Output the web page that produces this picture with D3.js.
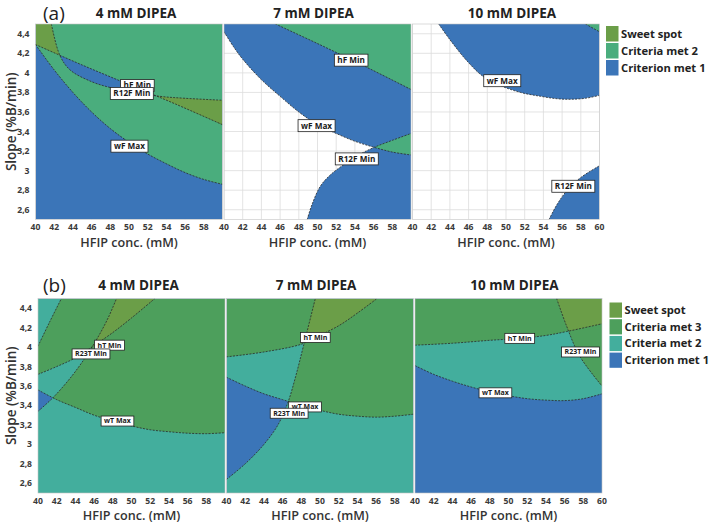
<!DOCTYPE html>
<html>
<head>
<meta charset="utf-8">
<script src="https://cdn.jsdelivr.net/npm/d3@7"></script>
<style>
  body { margin: 0; background: #fff; }
  text { font-family: "Open Sans", sans-serif; }
</style>
</head>
<body>
<script>
// ---- data (HFIP conc. in mM, slope in %B/min) ----
var xTicks = [40, 42, 44, 46, 48, 50, 52, 54, 56, 58, 60];
var yTicks = [2.6, 2.8, 3, 3.2, 3.4, 3.6, 3.8, 4, 4.2, 4.4];
var dipea = ["4 mM DIPEA", "7 mM DIPEA", "10 mM DIPEA"];
var legendA = ["Sweet spot", "Criteria met 2", "Criterion met 1"];
var legendB = ["Sweet spot", "Criteria met 3", "Criteria met 2", "Criterion met 1"];

// (a) contour boundaries
var a4_wF = [[40,4.29],[42,4.03],[44,3.8],[46,3.6],[48,3.43],[50,3.29],[52,3.17],[54,3.07],[56,2.98],[58,2.91],[60,2.86]];
var a4_hF = [[40,4.29],[45,4.08],[50,3.88],[55,3.68],[60,3.47]];
var a4_R12F = [[41.7,4.5],[42.6,4.18],[43.7,4.03],[46,3.91],[48,3.85],[50,3.81],[53.3,3.76],[56,3.74],[60,3.72]];

var a7_wF = [[40,4.42],[41,4.27],[42,4.14],[44,3.93],[46,3.76],[48,3.6],[50,3.47],[52,3.38],[54,3.3],[56,3.24],[58,3.19],[60,3.16]];
var a7_hF = [[45.5,4.5],[50,4.3],[55,4.07],[60,3.83]];
var a7_R12F = [[48.9,2.5],[49.4,2.65],[50.3,2.84],[51.3,2.95],[52.5,3.04],[54.6,3.17],[56.1,3.24],[58,3.31],[60,3.38]];

var a10_wF = [[42.8,4.5],[44,4.34],[45.85,4.12],[47.6,3.96],[49.4,3.87],[51.55,3.8],[53.7,3.76],[55.5,3.735],[56.9,3.73],[58.5,3.74],[60,3.77]];
var a10_hF = [[58.5,4.5],[60,4.42]];
var a10_R12F = [[54.6,2.5],[55.5,2.66],[56.55,2.8],[58,2.93],[60,3.05]];

// (b) contour boundaries
var b4_wT = [[40,3.56],[42,3.46],[44,3.38],[46,3.3],[48,3.24],[50,3.19],[52,3.15],[54,3.13],[56,3.115],[58,3.11],[60,3.12]];
var b4_hT = [[40,3.72],[42,3.8],[44,3.89],[45.9,4.01],[48,4.15],[50,4.3],[52.5,4.5]];
var b4_hTtop = [[40,4.01],[41.2,4.25],[42.5,4.5]];
var b4_R23T = [[40,3.34],[41.6,3.48],[43.6,3.7],[45.1,3.9],[46.4,4.1],[47.5,4.3],[48.4,4.5]];

var b7_wT = [[40,3.69],[42,3.6],[44,3.52],[46,3.46],[48,3.4],[50,3.35],[52,3.31],[54,3.29],[56,3.28],[58,3.29],[60,3.31]];
var b7_hT = [[40,3.9],[44,3.95],[48,4.03],[49.5,4.1],[52,4.22],[54,4.35],[56.1,4.5]];
var b7_R23T = [[40,2.64],[42,2.8],[44,3.0],[45.5,3.2],[46.6,3.44],[47.4,3.7],[48.2,4.0],[49.5,4.5]];

var b10_wT = [[40,3.81],[42,3.72],[44,3.65],[46,3.59],[48,3.54],[50,3.5],[52,3.47],[54,3.455],[56,3.45],[58,3.47],[60,3.52]];
var b10_hT = [[40,4.02],[44,4.04],[48,4.07],[51.2,4.09],[54,4.12],[56.2,4.16],[60,4.24]];
var b10_R23T = [[55.15,4.5],[56.2,4.22],[57.6,3.91],[60,3.6]];

// label anchors (data units)
var a4_labels = [["hF Min",50.9,3.87],["R12F Min",50.3,3.79],["wF Max",50.05,3.25]];
var a7_labels = [["hF Min",53.6,4.13],["wF Max",49.9,3.46],["R12F Min",54.2,3.12]];
var a10_labels = [["wF Max",49.6,3.92],["R12F Min",57.2,2.84]];
var b4_labels = [["hT Min",47.65,4.02],["R23T Min",45.67,3.93],["wT Max",48.5,3.24]];
var b7_labels = [["hT Min",49.5,4.1],["wT Max",48.4,3.385],["R23T Min",46.7,3.32]];
var b10_labels = [["hT Min",51.2,4.09],["R23T Min",57.7,3.95],["wT Max",48.6,3.53]];

// criterion regions: boundary curve + the frame corners that close the "met" side
var panelsA = [
  { crit: [
      [{c: a4_wF}, {f: [[60,4.5],[40,4.5]]}],
      [{c: a4_R12F}, {f: [[60,2.5],[40,2.5],[40,4.5]]}],
      [{c: a4_hF}, {f: [[60,4.5],[40,4.5]]}]
    ], labels: a4_labels },
  { crit: [
      [{c: a7_wF}, {f: [[60,4.5],[40,4.5]]}],
      [{c: a7_R12F}, {f: [[60,2.5]]}],
      [{c: a7_hF}, {f: [[60,4.5]]}]
    ], labels: a7_labels },
  { crit: [
      [{c: a10_wF}, {f: [[60,4.5]]}],
      [{c: a10_R12F}, {f: [[60,2.5]]}],
      [{c: a10_hF}, {f: [[60,4.5]]}]
    ], labels: a10_labels }
];
var panelsB = [
  { crit: [
      [{c: b4_wT}, {f: [[60,4.5],[40,4.5]]}],
      [{c: b4_hT}, {c: b4_hTtop, rev: true}],
      [{c: b4_R23T}, {f: [[60,4.5],[60,2.5],[40,2.5]]}]
    ], labels: b4_labels },
  { crit: [
      [{c: b7_wT}, {f: [[60,4.5],[40,4.5]]}],
      [{c: b7_hT}, {f: [[40,4.5]]}],
      [{c: b7_R23T}, {f: [[60,4.5],[60,2.5],[40,2.5]]}]
    ], labels: b7_labels },
  { crit: [
      [{c: b10_wT}, {f: [[60,4.5],[40,4.5]]}],
      [{c: b10_hT}, {f: [[60,4.5],[40,4.5]]}],
      [{c: b10_R23T}, {f: [[60,4.5]]}]
    ], labels: b10_labels }
];

// ---- layout / styles ----
var blue = "#3b75b8", olive = "#6b9e48";
var figA = { id: "a", tag: "(a)", left: 35.5, top: 24, h: 195.5, base: 0, panels: panelsA, titleY: -11,
  colors: {1: blue, 2: "#4aad7d", 3: olive}, legend: legendA, legendX: 606, legendY: 26, legendStep: 17,
  labelFont: 8.2, labelH: 12 };
var figB = { id: "b", tag: "(b)", left: 38, top: 298.5, h: 194.5, base: 1, panels: panelsB, titleY: -13.5,
  colors: {1: blue, 2: "#43ae9d", 3: "#4d9f5c", 4: olive}, legend: legendB, legendX: 609.5, legendY: 302.5, legendStep: 16.7,
  labelFont: 7, labelH: 10 };
var panelW = 187, gap = 1.5;
var titleDx = [7, -4, 6];

var svg = d3.select("body").append("svg").attr("width", 709).attr("height", 525);
var defs = svg.append("defs");

function combos(n, k) {
  var out = [];
  (function rec(start, acc) {
    if (acc.length === k) { out.push(acc.slice()); return; }
    for (var i = start; i < n; i++) { acc.push(i); rec(i + 1, acc); acc.pop(); }
  })(0, []);
  return out;
}

function drawFigure(fig) {
  var x = d3.scaleLinear().domain([40, 60]).range([0, panelW]);
  var y = d3.scaleLinear().domain([2.5, 4.5]).range([fig.h, 0]);
  var line = d3.line().x(function(d) { return x(d[0]); }).y(function(d) { return y(d[1]); })
      .curve(d3.curveCatmullRom.alpha(0.5));

  function regionPath(segs) {
    var s = "";
    segs.forEach(function(seg) {
      if (seg.c) {
        var pts = seg.rev ? seg.c.slice().reverse() : seg.c;
        var d = line(pts);
        s += s ? d.replace(/^M/, "L") : d;
      } else {
        seg.f.forEach(function(p) { s += (s ? "L" : "M") + x(p[0]) + "," + y(p[1]); });
      }
    });
    return s + "Z";
  }

  fig.panels.forEach(function(p, i) {
    var left = fig.left + i * (panelW + gap);
    var uid = fig.id + i;
    var g = svg.append("g").attr("transform", "translate(" + left + "," + fig.top + ")");

    defs.append("clipPath").attr("id", "plot-" + uid)
      .append("rect").attr("width", panelW).attr("height", fig.h);
    var plot = g.append("g").attr("clip-path", "url(#plot-" + uid + ")");

    plot.append("rect").attr("width", panelW).attr("height", fig.h)
      .attr("fill", fig.base ? fig.colors[fig.base] : "#fff");
    if (!fig.base) {
      plot.selectAll(".gx").data(xTicks).enter().append("line")
        .attr("x1", x).attr("x2", x).attr("y1", 0).attr("y2", fig.h)
        .attr("stroke", "#dcdcdc").attr("stroke-width", 0.8);
      plot.selectAll(".gy").data(yTicks).enter().append("line")
        .attr("y1", y).attr("y2", y).attr("x1", 0).attr("x2", panelW)
        .attr("stroke", "#dcdcdc").attr("stroke-width", 0.8);
    }

    p.crit.forEach(function(c, j) {
      defs.append("clipPath").attr("id", "cr-" + uid + "-" + j)
        .append("path").attr("d", regionPath(c));
    });

    var n = p.crit.length;
    for (var k = 1; k <= n; k++) {
      combos(n, k).forEach(function(set) {
        var host = plot;
        set.forEach(function(j) { host = host.append("g").attr("clip-path", "url(#cr-" + uid + "-" + j + ")"); });
        host.append("rect").attr("width", panelW).attr("height", fig.h).attr("fill", fig.colors[fig.base + k]);
      });
    }

    // dashed contour lines
    var curves = [];
    p.crit.forEach(function(c) { c.forEach(function(seg) { if (seg.c) curves.push(seg.c); }); });
    plot.selectAll(".bd").data(curves).enter().append("path")
      .attr("d", line).attr("fill", "none")
      .attr("stroke", "#2b2b2b").attr("stroke-width", 0.8).attr("stroke-dasharray", "2,1.3");

    g.append("rect").attr("width", panelW).attr("height", fig.h)
      .attr("fill", "none").attr("stroke", "#c4c4c4").attr("stroke-width", 0.6);

    // contour labels
    p.labels.forEach(function(l) {
      var lg = g.append("g").attr("transform", "translate(" + x(l[1]) + "," + y(l[2]) + ")");
      var box = lg.append("rect");
      var t = lg.append("text").text(l[0]).attr("text-anchor", "middle").attr("dy", "0.35em")
        .attr("font-size", fig.labelFont).attr("font-weight", "bold").attr("fill", "#1a1a1a");
      var w = t.node().getComputedTextLength() + 6;
      box.attr("x", -w / 2).attr("y", -fig.labelH / 2).attr("width", w).attr("height", fig.labelH)
        .attr("fill", "#fff").attr("stroke", "#222").attr("stroke-width", 0.8);
    });

    // x tick labels
    var xt = i < 2 ? xTicks.slice(0, -1) : xTicks;
    g.selectAll(".xt").data(xt).enter().append("text")
      .attr("x", x).attr("y", fig.h + 7.5).attr("dy", "0.35em").attr("text-anchor", "middle")
      .attr("font-size", 8.6).attr("font-weight", "bold").attr("fill", "#3a3a3a").text(function(d) { return d; });

    g.append("text").attr("x", panelW / 2).attr("y", fig.h + 23).attr("dy", "0.35em")
      .attr("text-anchor", "middle").attr("font-size", 12.6).attr("font-weight", 600).attr("fill", "#333")
      .text("HFIP conc. (mM)");

    g.append("text").attr("x", panelW / 2 + titleDx[i]).attr("y", fig.titleY).attr("dy", "0.35em")
      .attr("text-anchor", "middle").attr("font-size", 13.5).attr("font-weight", "bold").attr("fill", "#222")
      .text(dipea[i]);

    if (i === 0) {
      g.selectAll(".yt").data(yTicks).enter().append("text")
        .attr("x", -6).attr("y", y).attr("dy", "0.35em").attr("text-anchor", "end")
        .attr("font-size", 8.6).attr("font-weight", "bold").attr("fill", "#3a3a3a")
        .text(function(d) { return String(+d.toFixed(1)).replace(".", ","); });
      g.append("text").attr("transform", "translate(" + (11.5 - left) + "," + (fig.h / 2) + ") rotate(-90)")
        .attr("dy", "0.35em").attr("text-anchor", "middle").attr("font-size", 13.5).attr("font-weight", 600)
        .attr("fill", "#333").text("Slope (%B/min)");
      g.append("text").attr("x", 43 - left).attr("y", fig.titleY).attr("dy", "0.35em")
        .attr("font-size", 19).attr("fill", "#222").text(fig.tag);
    }
  });

  // legend, highest count first
  var total = fig.panels[0].crit.length + fig.base;
  var lg = svg.append("g").attr("transform", "translate(" + fig.legendX + "," + fig.legendY + ")");
  fig.legend.forEach(function(name, r) {
    lg.append("rect").attr("x", 0).attr("y", r * fig.legendStep).attr("width", 12.5).attr("height", fig.legendStep - 1.5)
      .attr("fill", fig.colors[total - r]);
    lg.append("text").attr("x", 15).attr("y", r * fig.legendStep + (fig.legendStep - 1.5) / 2).attr("dy", "0.35em")
      .attr("font-size", 11.2).attr("font-weight", "bold").attr("fill", "#222").text(name);
  });
}

drawFigure(figA);
drawFigure(figB);
</script>
</body>
</html>
